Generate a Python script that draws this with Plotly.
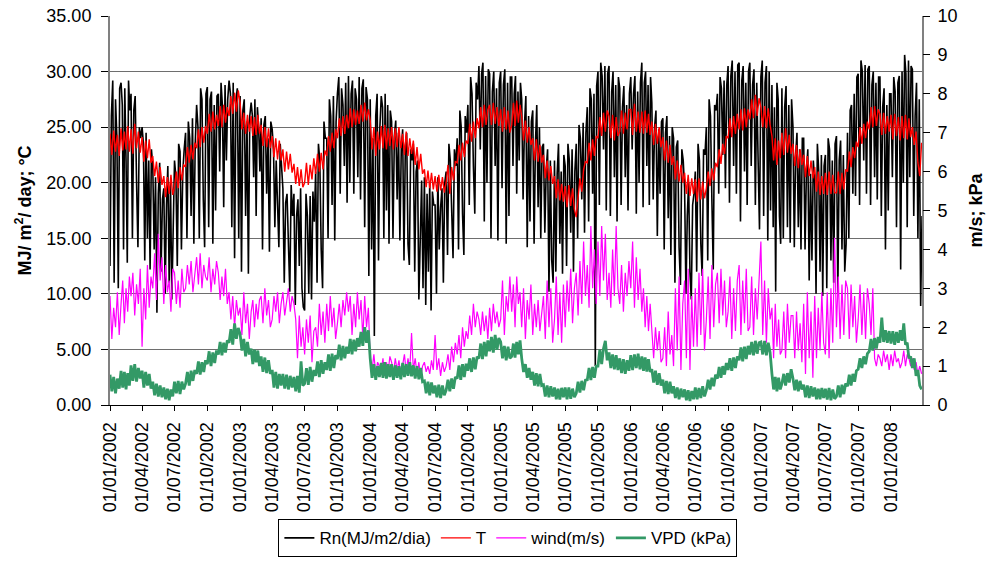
import calendar
from datetime import datetime, timedelta
import plotly.graph_objects as go

# ---------------- data (monthly blocks) ----------------
start_year, start_month, n_months = 2002, 1, 75   # Jan 2002 .. Mar 2008

# Net radiation Rn (MJ/m2/day), 8 readings per month
rn = [
    # 2002
    [12.5, 26.0, 29.2, 11.0, 27.5, 24.0, 10.5, 28.5],
    [29.0, 27.0, 14.0, 28.5, 22.0, 12.8, 29.2, 26.5],
    [28.0, 15.0, 26.5, 27.8, 20.0, 14.2, 25.0, 24.0],
    [25.0, 23.5, 13.0, 24.5, 15.0, 22.0, 12.2, 23.0],
    [21.5, 14.0, 20.5, 8.3, 19.0, 21.8, 12.0, 18.5],
    [19.5, 10.0, 18.0, 21.5, 11.0, 20.0, 9.5, 16.5],
    [22.0, 20.5, 12.5, 23.5, 22.8, 14.0, 21.0, 23.0],
    [24.5, 15.0, 25.5, 24.0, 17.0, 25.8, 14.5, 23.5],
    [27.0, 25.0, 15.0, 28.5, 27.5, 18.5, 14.2, 28.0],
    [28.6, 16.0, 27.5, 28.2, 14.5, 27.0, 17.5, 27.8],
    [28.0, 21.0, 29.0, 27.0, 17.8, 28.8, 22.0, 27.5],
    [29.2, 28.0, 16.0, 29.0, 13.2, 27.5, 28.5, 15.0],
    # 2003
    [27.8, 12.0, 26.5, 27.5, 17.0, 25.5, 11.8, 26.0],
    [27.2, 26.0, 20.5, 27.5, 17.0, 26.8, 25.0, 21.0],
    [25.8, 14.0, 25.2, 26.0, 19.0, 24.0, 13.8, 25.5],
    [24.8, 23.0, 16.0, 22.0, 18.0, 14.2, 23.5, 21.5],
    [19.5, 11.0, 18.2, 19.0, 14.5, 10.2, 19.8, 17.0],
    [19.0, 9.0, 17.0, 18.5, 12.5, 19.5, 10.5, 8.8],
    [8.5, 19.0, 17.0, 10.0, 18.8, 9.5, 19.2, 16.5],
    [21.0, 11.0, 23.5, 22.0, 14.0, 10.5, 25.5, 24.0],
    [24.0, 15.0, 27.5, 26.0, 18.0, 27.8, 14.8, 25.5],
    [28.0, 29.5, 19.0, 28.5, 27.0, 21.5, 29.0, 18.2],
    [29.6, 20.0, 28.0, 29.2, 19.0, 28.5, 27.5, 20.5],
    [29.5, 18.5, 28.5, 29.3, 16.0, 28.6, 27.5, 11.6],
    # 2004
    [27.5, 14.0, 24.0, 6.2, 26.0, 28.0, 13.0, 25.0],
    [27.8, 26.8, 15.0, 28.0, 17.5, 27.0, 14.5, 26.5],
    [25.5, 15.0, 24.2, 25.6, 18.5, 24.5, 14.8, 23.0],
    [24.8, 13.0, 23.2, 24.5, 14.5, 12.6, 23.0, 22.0],
    [23.5, 12.0, 21.0, 22.0, 9.5, 14.0, 20.2, 10.5],
    [20.5, 9.0, 19.0, 12.0, 20.0, 8.5, 19.2, 18.0],
    [18.0, 10.0, 20.5, 14.0, 17.8, 19.5, 11.0, 20.0],
    [21.0, 13.5, 23.5, 22.0, 17.0, 13.2, 23.0, 21.5],
    [24.0, 14.0, 26.5, 25.0, 17.2, 13.5, 26.0, 24.5],
    [27.0, 18.0, 29.5, 28.0, 21.5, 17.2, 29.0, 27.5],
    [30.5, 23.0, 29.8, 30.8, 16.5, 29.6, 20.0, 30.2],
    [29.8, 15.0, 28.2, 30.0, 21.5, 28.5, 14.8, 29.0],
    # 2005
    [30.0, 19.5, 28.8, 30.2, 14.5, 29.0, 17.0, 29.5],
    [29.5, 21.5, 28.0, 29.6, 19.0, 28.2, 22.0, 29.0],
    [27.5, 18.5, 25.2, 27.8, 14.2, 26.0, 16.5, 25.5],
    [26.5, 14.5, 23.5, 27.0, 17.8, 25.0, 15.0, 23.2],
    [23.5, 15.5, 21.2, 23.0, 10.2, 22.0, 13.0, 11.0],
    [22.0, 12.0, 20.8, 23.5, 14.5, 21.0, 11.8, 22.5],
    [21.5, 12.5, 23.5, 22.0, 15.5, 23.0, 12.0, 21.0],
    [23.5, 15.0, 25.2, 24.0, 18.5, 25.4, 15.5, 24.5],
    [26.8, 16.5, 28.5, 27.5, 19.0, 28.0, 3.5, 28.7],
    [30.0, 18.0, 30.8, 29.6, 23.0, 30.5, 17.5, 29.8],
    [30.5, 17.0, 28.2, 30.0, 20.5, 28.8, 16.5, 29.5],
    [28.5, 18.0, 26.8, 28.7, 20.5, 27.0, 17.5, 28.0],
    # 2006
    [29.5, 23.0, 28.0, 29.6, 17.2, 28.2, 20.0, 29.0],
    [30.8, 17.8, 29.0, 30.0, 21.5, 28.8, 18.0, 29.5],
    [27.2, 18.5, 25.0, 26.5, 15.2, 24.8, 19.0, 25.5],
    [25.8, 14.0, 24.5, 26.0, 16.8, 24.2, 13.5, 25.0],
    [24.0, 11.0, 23.2, 23.8, 14.2, 10.8, 23.0, 22.0],
    [19.5, 10.0, 17.0, 20.0, 12.0, 9.5, 18.0, 19.0],
    [21.0, 12.0, 23.5, 22.0, 14.5, 11.6, 23.0, 22.5],
    [25.0, 13.0, 27.5, 26.0, 18.5, 12.2, 27.0, 26.5],
    [28.0, 19.0, 29.5, 28.5, 22.5, 29.2, 19.5, 28.8],
    [30.5, 18.2, 29.6, 31.0, 21.5, 30.0, 19.0, 30.6],
    [30.8, 16.5, 29.2, 30.5, 21.0, 29.0, 18.0, 30.0],
    [30.8, 21.5, 28.8, 30.2, 18.0, 29.0, 22.0, 15.8],
    # 2007
    [29.5, 31.0, 17.0, 29.0, 30.5, 14.8, 30.0, 17.5],
    [28.8, 16.0, 26.8, 10.2, 29.0, 27.5, 17.0, 14.5],
    [28.5, 15.0, 26.8, 28.7, 16.0, 27.0, 14.6, 27.5],
    [25.0, 14.2, 22.5, 24.5, 16.0, 23.0, 14.0, 24.0],
    [24.0, 14.0, 21.0, 23.0, 11.2, 20.8, 13.0, 22.0],
    [20.0, 10.0, 23.5, 21.0, 12.0, 22.5, 9.8, 21.5],
    [22.5, 10.5, 24.0, 23.0, 13.0, 22.0, 11.0, 23.5],
    [24.2, 10.0, 22.0, 23.8, 14.0, 22.5, 12.0, 14.5],
    [24.5, 15.0, 26.5, 27.0, 19.0, 28.0, 18.8, 29.5],
    [29.8, 18.0, 31.0, 30.0, 22.0, 30.6, 19.0, 30.2],
    [30.5, 18.0, 28.8, 30.0, 20.5, 29.0, 18.5, 29.5],
    [29.5, 17.0, 26.8, 28.5, 14.0, 27.0, 17.5, 28.0],
    # 2008
    [28.0, 20.5, 29.5, 28.2, 16.0, 29.0, 29.6, 12.2],
    [30.0, 20.0, 31.5, 29.8, 16.0, 31.0, 20.5, 30.5],
    [30.2, 17.0, 26.0, 29.0, 15.0, 27.5, 8.9, 17.0],
]

# Air temperature T (degC), 6 readings per month
temp = [
    # 2002
    [24.4, 22.5, 24.7, 22.8, 24.3, 22.4],
    [24.9, 22.9, 24.6, 23.0, 25.1, 22.8],
    [24.8, 22.6, 25.3, 23.1, 24.6, 22.7],
    [24.1, 21.9, 23.8, 22.2, 23.9, 21.8],
    [22.4, 20.6, 21.9, 20.0, 21.4, 19.8],
    [20.6, 18.7, 20.5, 19.0, 20.7, 18.9],
    [19.6, 21.0, 19.5, 21.4, 20.2, 21.6],
    [21.5, 23.2, 21.8, 23.4, 22.1, 23.6],
    [23.1, 24.8, 23.2, 25.0, 23.6, 25.1],
    [24.4, 26.2, 24.6, 26.4, 24.8, 26.1],
    [25.1, 26.9, 25.0, 27.0, 25.4, 26.8],
    [26.0, 27.8, 26.2, 28.1, 26.4, 28.3],
    # 2003
    [27.2, 24.8, 26.3, 24.4, 26.1, 24.6],
    [26.0, 24.2, 25.9, 24.3, 26.1, 24.4],
    [25.2, 23.3, 25.0, 23.2, 24.9, 23.1],
    [24.2, 22.3, 24.0, 22.1, 23.8, 22.0],
    [23.0, 21.0, 22.8, 21.2, 22.6, 20.9],
    [21.7, 19.9, 21.4, 19.7, 21.2, 19.6],
    [20.0, 21.8, 19.8, 21.6, 20.3, 22.2],
    [20.8, 22.6, 21.0, 22.7, 21.2, 22.9],
    [22.4, 24.2, 22.8, 24.5, 23.1, 24.8],
    [24.0, 25.8, 24.2, 26.0, 24.4, 26.1],
    [24.9, 26.7, 25.0, 26.6, 25.2, 26.5],
    [25.3, 27.0, 25.5, 27.2, 25.6, 26.6],
    # 2004
    [25.6, 23.0, 25.0, 22.4, 24.6, 23.0],
    [25.1, 23.1, 25.2, 23.0, 24.9, 23.3],
    [25.0, 23.0, 24.9, 23.2, 25.0, 23.1],
    [24.4, 22.5, 24.6, 22.4, 24.0, 22.6],
    [23.8, 21.6, 23.2, 21.2, 22.6, 20.8],
    [21.2, 19.6, 21.1, 19.5, 20.9, 19.4],
    [20.6, 19.2, 20.7, 19.3, 20.5, 19.1],
    [20.0, 21.6, 19.0, 21.4, 20.2, 21.9],
    [21.8, 23.4, 22.0, 23.6, 22.3, 23.8],
    [23.5, 25.3, 23.7, 25.5, 24.0, 25.8],
    [24.9, 26.8, 25.0, 27.0, 25.2, 26.6],
    [27.0, 25.2, 27.2, 25.3, 26.8, 25.1],
    # 2005
    [26.6, 24.6, 26.8, 24.8, 26.5, 24.5],
    [25.2, 27.2, 25.1, 27.4, 25.4, 27.0],
    [26.0, 23.8, 25.6, 23.6, 25.0, 23.4],
    [24.0, 22.0, 23.9, 21.9, 23.4, 21.8],
    [22.5, 20.4, 22.0, 20.2, 21.5, 19.9],
    [20.6, 18.6, 20.3, 18.4, 19.9, 18.3],
    [19.7, 17.8, 19.8, 17.9, 19.5, 17.6],
    [16.9, 19.0, 20.4, 19.2, 21.2, 21.9],
    [21.8, 23.6, 22.0, 23.9, 22.4, 24.2],
    [24.0, 25.9, 24.2, 26.3, 24.6, 26.5],
    [26.0, 24.0, 26.1, 23.8, 25.9, 24.2],
    [24.6, 26.5, 24.4, 26.3, 24.8, 26.6],
    # 2006
    [26.6, 24.3, 27.1, 24.6, 26.4, 24.5],
    [26.4, 24.4, 26.5, 24.5, 26.2, 24.3],
    [25.5, 23.4, 25.3, 23.5, 25.0, 23.2],
    [24.1, 22.0, 23.8, 21.8, 23.4, 21.6],
    [22.4, 20.3, 22.0, 20.1, 21.6, 20.0],
    [20.9, 19.0, 20.7, 18.8, 20.4, 19.0],
    [20.3, 18.3, 20.4, 18.5, 20.1, 18.6],
    [19.5, 21.0, 19.7, 21.3, 20.2, 21.8],
    [21.4, 23.0, 21.7, 23.5, 22.6, 24.2],
    [24.0, 25.8, 24.1, 26.0, 24.4, 26.2],
    [24.8, 26.6, 24.7, 26.7, 25.0, 26.6],
    [25.7, 27.5, 25.8, 27.9, 26.0, 27.6],
    # 2007
    [26.8, 25.0, 26.9, 24.9, 26.7, 25.2],
    [24.2, 22.0, 24.0, 21.6, 23.8, 22.2],
    [24.5, 22.5, 24.9, 22.7, 24.3, 22.6],
    [23.5, 21.5, 23.4, 21.3, 23.0, 21.6],
    [22.5, 20.5, 22.4, 20.6, 22.0, 20.4],
    [21.4, 19.2, 21.0, 18.9, 20.6, 19.0],
    [20.9, 18.9, 21.0, 19.0, 20.7, 19.1],
    [19.1, 21.0, 19.0, 20.9, 19.4, 21.2],
    [21.0, 22.8, 21.4, 23.2, 22.2, 23.7],
    [23.2, 25.0, 23.5, 25.3, 24.0, 25.5],
    [24.8, 26.8, 25.0, 26.9, 25.1, 26.6],
    [26.2, 24.3, 26.3, 24.4, 26.0, 24.6],
    # 2008
    [26.1, 23.9, 26.2, 24.2, 25.9, 23.8],
    [26.0, 24.0, 26.1, 23.9, 25.8, 24.1],
    [25.0, 23.4, 24.6, 21.8, 20.6, 23.6],
]

# Wind speed (m/s), 6 readings per month
wind = [
    # 2002
    [2.8, 1.7, 2.5, 2.0, 2.9, 1.8],
    [2.6, 3.2, 2.1, 3.0, 2.4, 3.3],
    [2.8, 3.4, 2.3, 3.1, 2.6, 3.5],
    [1.5, 3.0, 2.2, 3.6, 2.5, 3.3],
    [3.0, 3.9, 2.7, 4.4, 3.2, 3.8],
    [2.6, 3.6, 2.9, 3.2, 2.4, 3.5],
    [3.4, 2.6, 3.2, 2.5, 3.5, 2.9],
    [3.0, 3.6, 3.1, 3.7, 2.9, 3.4],
    [3.8, 3.1, 3.9, 3.0, 3.6, 3.3],
    [3.2, 3.8, 2.9, 3.5, 3.1, 3.7],
    [3.4, 2.7, 3.3, 2.8, 3.5, 2.6],
    [2.9, 2.2, 2.8, 2.0, 2.7, 2.3],
    # 2003
    [2.5, 1.8, 2.9, 2.1, 2.6, 1.7],
    [2.4, 2.7, 2.0, 2.6, 2.2, 2.7],
    [2.8, 2.1, 3.0, 2.3, 2.7, 2.0],
    [2.2, 2.8, 2.4, 2.9, 2.1, 2.6],
    [2.9, 2.3, 2.7, 3.0, 2.4, 2.8],
    [2.6, 2.2, 1.2, 2.3, 1.5, 2.0],
    [1.3, 2.2, 1.6, 2.3, 1.1, 1.9],
    [2.0, 1.5, 2.6, 1.8, 2.4, 1.6],
    [2.6, 1.9, 2.8, 2.0, 2.5, 1.7],
    [2.1, 2.6, 2.0, 2.7, 2.3, 2.9],
    [2.4, 2.8, 1.8, 2.6, 2.0, 2.9],
    [2.2, 2.7, 1.7, 2.8, 2.0, 2.5],
    # 2004
    [1.2, 0.9, 1.3, 0.8, 1.1, 1.0],
    [0.9, 1.2, 0.75, 1.1, 0.85, 1.25],
    [1.1, 0.8, 1.2, 0.9, 1.15, 0.75],
    [1.0, 1.3, 0.85, 1.2, 0.9, 1.85],
    [0.9, 1.2, 0.8, 1.1, 0.7, 1.0],
    [1.1, 0.85, 1.0, 0.8, 1.15, 0.9],
    [1.8, 0.9, 1.2, 0.75, 1.1, 0.85],
    [1.0, 1.3, 0.9, 1.5, 1.1, 1.6],
    [1.3, 1.8, 1.2, 2.0, 1.5, 1.9],
    [1.7, 2.3, 1.8, 2.6, 2.0, 2.4],
    [2.2, 1.8, 2.4, 1.9, 2.3, 1.7],
    [2.5, 1.9, 2.6, 2.1, 2.4, 2.0],
    # 2005
    [2.2, 3.2, 1.8, 2.8, 2.4, 3.3],
    [2.4, 3.1, 2.0, 3.3, 2.6, 2.9],
    [2.0, 3.0, 1.7, 2.7, 2.2, 3.1],
    [1.8, 2.6, 2.0, 2.7, 1.9, 2.4],
    [2.8, 1.7, 3.2, 2.0, 3.0, 1.6],
    [2.2, 3.3, 1.8, 2.9, 1.6, 3.1],
    [2.0, 3.2, 2.4, 3.5, 2.1, 3.0],
    [3.4, 2.3, 3.7, 2.6, 4.2, 2.8],
    [3.6, 2.5, 4.6, 3.0, 4.0, 2.6],
    [4.2, 2.8, 4.6, 3.2, 4.4, 2.7],
    [3.4, 2.5, 4.0, 2.8, 4.6, 3.0],
    [2.6, 3.6, 2.4, 3.4, 2.8, 3.7],
    # 2006
    [3.0, 4.2, 2.5, 3.8, 2.7, 3.5],
    [2.4, 3.0, 2.0, 2.8, 1.9, 2.6],
    [1.8, 1.2, 2.0, 1.4, 1.9, 1.1],
    [1.2, 2.0, 1.0, 2.4, 1.3, 1.8],
    [1.0, 3.0, 1.4, 3.3, 0.9, 2.6],
    [3.2, 1.2, 3.5, 0.9, 2.8, 1.5],
    [3.0, 1.5, 3.4, 1.8, 3.5, 1.4],
    [2.2, 3.3, 1.7, 3.6, 2.0, 3.1],
    [3.4, 2.1, 3.5, 2.3, 3.2, 2.0],
    [2.4, 3.3, 1.7, 3.0, 1.9, 3.2],
    [3.6, 1.8, 3.2, 2.1, 3.5, 1.9],
    [2.0, 3.3, 1.8, 3.0, 2.2, 3.2],
    # 2007
    [4.2, 1.8, 3.2, 1.6, 3.0, 2.2],
    [2.5, 1.2, 2.6, 1.5, 2.2, 1.3],
    [1.4, 2.4, 1.2, 2.6, 1.6, 2.3],
    [2.3, 1.2, 2.4, 1.4, 2.1, 1.1],
    [2.6, 0.8, 2.9, 1.2, 2.4, 0.7],
    [2.8, 1.2, 2.5, 1.4, 2.9, 1.6],
    [1.3, 2.9, 1.2, 3.0, 1.6, 4.3],
    [2.0, 3.3, 1.7, 3.1, 1.8, 3.2],
    [3.0, 1.7, 3.1, 2.0, 2.8, 1.6],
    [2.2, 3.1, 1.8, 2.9, 1.7, 3.0],
    [2.6, 1.8, 3.0, 1.2, 1.0, 1.3],
    [1.2, 1.0, 1.4, 1.1, 1.3, 0.9],
    # 2008
    [1.3, 1.0, 1.4, 1.1, 1.2, 0.95],
    [1.1, 1.4, 1.0, 1.3, 1.2, 1.0],
    [1.2, 0.9, 1.1, 0.8, 1.0, 0.8],
]

# Vapour pressure deficit VPD (kPa), 6 readings per month
vpd = [
    # 2002
    [0.78, 0.35, 0.72, 0.3, 0.68, 0.42],
    [0.88, 0.45, 0.85, 0.4, 0.82, 0.5],
    [1.02, 0.62, 1.05, 0.6, 0.95, 0.68],
    [0.88, 0.45, 0.85, 0.5, 0.8, 0.42],
    [0.6, 0.25, 0.55, 0.22, 0.5, 0.2],
    [0.45, 0.15, 0.42, 0.12, 0.4, 0.22],
    [0.6, 0.3, 0.62, 0.28, 0.6, 0.4],
    [0.55, 0.85, 0.5, 0.88, 0.62, 0.9],
    [0.8, 1.12, 0.78, 1.1, 0.85, 1.15],
    [1.05, 1.38, 1.0, 1.35, 1.08, 1.4],
    [1.3, 1.62, 1.28, 1.6, 1.35, 1.66],
    [1.6, 1.95, 1.55, 2.1, 1.7, 1.98],
    # 2003
    [1.82, 1.4, 1.7, 1.25, 1.62, 1.3],
    [1.45, 1.05, 1.42, 1.1, 1.4, 1.0],
    [1.25, 0.85, 1.22, 0.82, 1.15, 0.8],
    [0.9, 0.45, 0.85, 0.42, 0.8, 0.5],
    [0.8, 0.42, 0.78, 0.4, 0.75, 0.45],
    [0.72, 0.35, 0.75, 0.32, 1.12, 0.5],
    [0.55, 0.95, 0.52, 0.98, 0.6, 0.9],
    [0.75, 1.12, 0.72, 1.15, 0.8, 1.1],
    [0.9, 1.3, 0.88, 1.32, 0.95, 1.28],
    [1.18, 1.55, 1.15, 1.52, 1.2, 1.5],
    [1.32, 1.7, 1.3, 1.68, 1.38, 1.72],
    [1.5, 1.88, 1.52, 2.0, 1.6, 1.92],
    # 2004
    [1.2, 0.7, 1.05, 0.65, 1.0, 0.72],
    [1.08, 0.7, 1.1, 0.68, 1.05, 0.72],
    [1.05, 0.65, 1.02, 0.7, 1.0, 0.66],
    [1.08, 0.72, 1.05, 0.75, 1.1, 0.74],
    [1.02, 0.68, 1.0, 0.66, 0.95, 0.6],
    [0.62, 0.3, 0.6, 0.25, 0.58, 0.3],
    [0.5, 0.2, 0.52, 0.18, 0.5, 0.25],
    [0.38, 0.65, 0.35, 0.68, 0.42, 0.72],
    [0.68, 1.02, 0.65, 1.05, 0.72, 1.06],
    [0.88, 1.2, 0.85, 1.22, 0.92, 1.24],
    [1.2, 1.58, 1.18, 1.62, 1.25, 1.66],
    [1.38, 1.75, 1.35, 1.8, 1.42, 1.72],
    # 2005
    [1.62, 1.2, 1.52, 1.15, 1.5, 1.2],
    [1.25, 1.58, 1.22, 1.62, 1.3, 1.66],
    [1.2, 0.85, 1.05, 0.7, 0.95, 0.65],
    [0.85, 0.5, 0.82, 0.48, 0.8, 0.5],
    [0.52, 0.22, 0.5, 0.2, 0.48, 0.22],
    [0.45, 0.15, 0.42, 0.14, 0.44, 0.2],
    [0.45, 0.15, 0.45, 0.16, 0.42, 0.2],
    [0.3, 0.6, 0.32, 0.62, 0.38, 0.64],
    [0.65, 0.95, 0.64, 0.98, 0.7, 1.0],
    [1.0, 1.42, 1.05, 1.45, 1.65, 1.15],
    [1.35, 0.95, 1.3, 0.92, 1.28, 0.9],
    [1.2, 0.82, 1.18, 0.8, 1.15, 0.88],
    # 2006
    [1.28, 0.9, 1.3, 0.95, 1.32, 0.92],
    [1.25, 0.88, 1.22, 0.86, 1.18, 0.85],
    [0.92, 0.58, 0.88, 0.52, 0.82, 0.5],
    [0.65, 0.3, 0.62, 0.28, 0.6, 0.3],
    [0.48, 0.18, 0.45, 0.15, 0.42, 0.2],
    [0.4, 0.12, 0.38, 0.1, 0.36, 0.15],
    [0.45, 0.15, 0.44, 0.18, 0.48, 0.22],
    [0.38, 0.65, 0.4, 0.7, 0.48, 0.78],
    [0.68, 0.98, 0.7, 1.0, 0.78, 1.08],
    [0.9, 1.2, 0.88, 1.22, 0.95, 1.25],
    [1.15, 1.48, 1.12, 1.5, 1.18, 1.52],
    [1.3, 1.62, 1.28, 1.65, 1.32, 1.6],
    # 2007
    [1.62, 1.3, 1.65, 1.28, 1.6, 1.35],
    [0.8, 0.4, 0.72, 0.35, 0.7, 0.4],
    [0.55, 0.8, 0.5, 0.82, 0.58, 0.92],
    [0.68, 0.38, 0.65, 0.35, 0.62, 0.4],
    [0.52, 0.2, 0.5, 0.18, 0.48, 0.22],
    [0.45, 0.15, 0.42, 0.15, 0.44, 0.18],
    [0.42, 0.14, 0.44, 0.12, 0.4, 0.16],
    [0.22, 0.5, 0.2, 0.52, 0.28, 0.55],
    [0.48, 0.78, 0.5, 0.8, 0.6, 0.88],
    [0.92, 1.2, 0.95, 1.25, 1.05, 1.32],
    [1.38, 1.7, 1.4, 1.72, 1.45, 1.75],
    [1.6, 2.25, 1.62, 1.92, 1.6, 1.9],
    # 2008
    [1.58, 1.9, 1.55, 1.88, 1.6, 1.92],
    [1.65, 2.1, 1.55, 1.6, 1.2, 1.25],
    [0.95, 1.2, 0.75, 0.9, 0.5, 0.4],
]

tick_format = "%d/%m/%Y"
x_range = ["2002-01-01", "2008-03-28"]


# ---------------- helpers ----------------
def month_list():
    out = []
    for i in range(n_months):
        y = start_year + (start_month - 1 + i) // 12
        m = (start_month - 1 + i) % 12 + 1
        out.append((y, m))
    return out


def flatten(monthly):
    xs, ys = [], []
    for (y, m), vals in zip(month_list(), monthly):
        nd = calendar.monthrange(y, m)[1]
        base = datetime(y, m, 1)
        n = len(vals)
        for k, v in enumerate(vals):
            xs.append(base + timedelta(days=k * nd / n))
            ys.append(v)
    return xs, ys


rn_x, rn_y = flatten(rn)
t_x, t_y = flatten(temp)
w_x, w_y = flatten(wind)
v_x, v_y = flatten(vpd)

fig = go.Figure()
fig.add_trace(go.Scatter(x=rn_x, y=rn_y, mode="lines", name="Rn(MJ/m2/dia)",
                         line=dict(color="black", width=1.6)))
fig.add_trace(go.Scatter(x=t_x, y=t_y, mode="lines", name="T",
                         line=dict(color="#FF0000", width=1.4)))
fig.add_trace(go.Scatter(x=w_x, y=w_y, mode="lines", name="wind(m/s)", yaxis="y2",
                         line=dict(color="#FF00FF", width=1.2)))
fig.add_trace(go.Scatter(x=v_x, y=v_y, mode="lines", name="VPD (kPa)", yaxis="y2",
                         line=dict(color="#339966", width=2.8)))

font_family = "Liberation Sans, Arial, sans-serif"
fig.update_layout(
    width=988, height=562,
    margin=dict(l=110, r=66, t=16, b=157),
    paper_bgcolor="white", plot_bgcolor="white",
    font=dict(family=font_family, size=18, color="black"),
    legend=dict(orientation="h", x=0.49, xanchor="center",
                yref="container", y=0.076, yanchor="top",
                bordercolor="black", borderwidth=1, font=dict(size=17),
                itemwidth=30, tracegroupgap=0),
    xaxis=dict(type="date", range=x_range, tick0="2002-01-01", dtick="M3",
               tickformat=tick_format, tickangle=-90, ticks="outside", ticklen=5,
               tickcolor="black", showline=True, linecolor="black", linewidth=1,
               showgrid=False, zeroline=False, tickfont=dict(size=18),
               automargin=False, ticklabelstandoff=4),
    yaxis=dict(range=[0, 35], dtick=5, tickformat=".2f", ticks="outside", ticklen=7,
               tickcolor="black", showline=True, linecolor="#808080", linewidth=2,
               mirror=True, showgrid=True, gridcolor="#6e6e6e", gridwidth=1,
               zeroline=False, tickfont=dict(size=18), automargin=False,
               ticklabelstandoff=6,
               title=dict(text="<b>MJ/ m<sup>2</sup>/ day; °C</b>", font=dict(size=18),
                          standoff=10)),
    yaxis2=dict(range=[0, 10], dtick=1, overlaying="y", side="right", ticks="outside",
                ticklen=7, tickcolor="black", showline=False, showgrid=False,
                zeroline=False, tickfont=dict(size=18), automargin=False,
                ticklabelstandoff=4,
                title=dict(text="<b>m/s; kPa</b>", font=dict(size=18), standoff=12)),
)

# remove the default page margin so the figure sits at the window's top-left corner
fig.write_html("out.html", config={"displayModeBar": False},
               post_script="document.body.style.margin='0';")
